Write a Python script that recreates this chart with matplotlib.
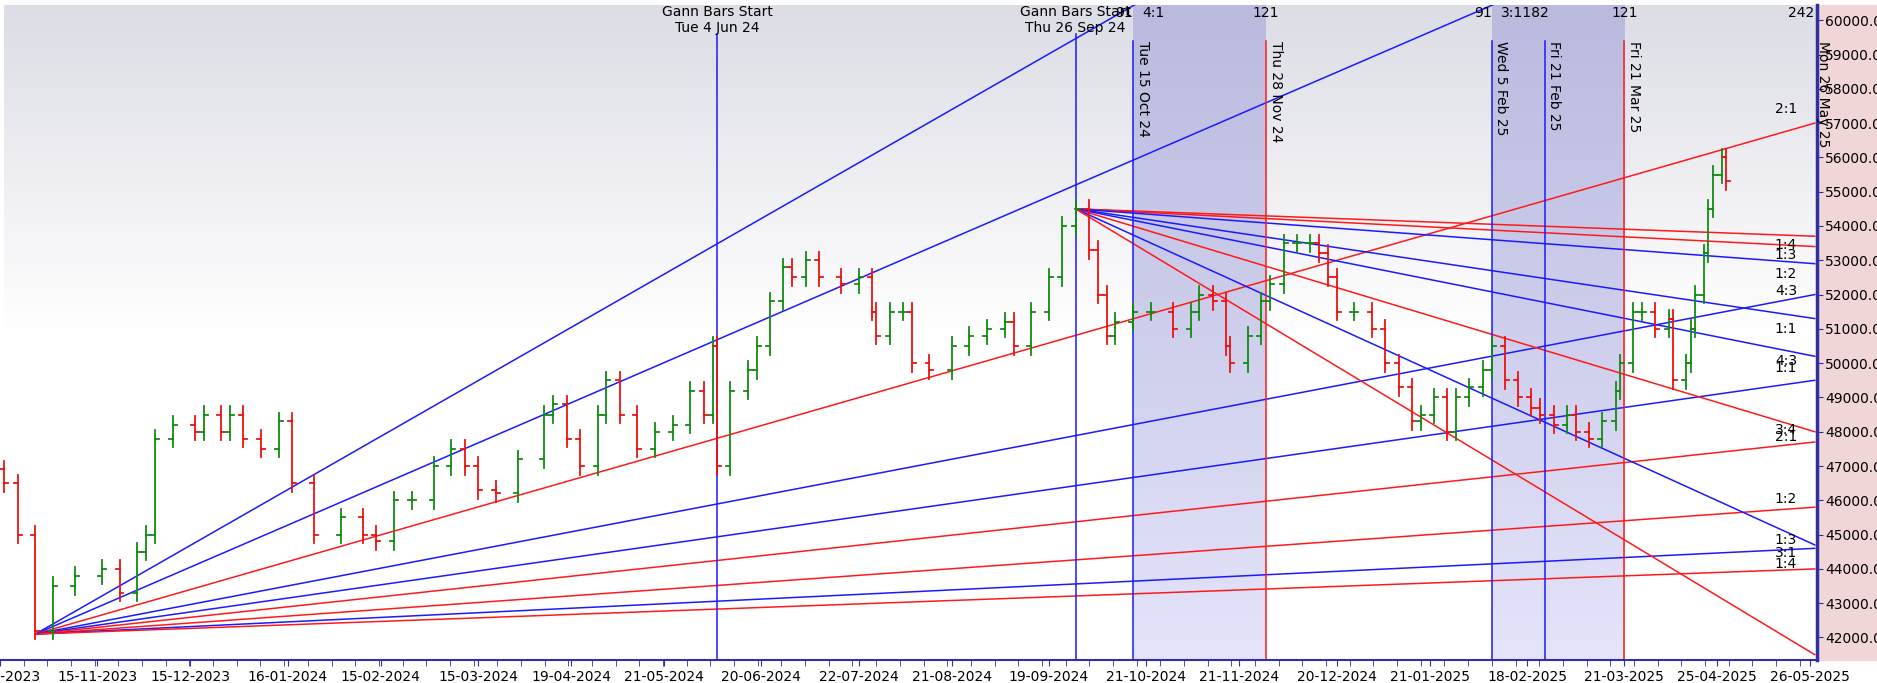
import matplotlib

matplotlib.use("Agg")

import matplotlib.pyplot as plt
import numpy as np

# bar index (trading bars from chart start) and closing prices
bars = [0, 3, 7, 11, 16, 22, 26, 30, 32, 34, 38, 43, 45, 49, 51, 54, 58, 62, 65, 70,
        76, 81, 84, 88, 92, 97, 101, 104, 107, 111, 116, 122, 124, 127, 130, 134, 136, 139, 143, 147,
        151, 155, 158, 160, 161, 164, 168, 170, 173, 176, 178, 181, 184, 189, 193, 196, 197, 200, 203, 205,
        209, 214, 218, 222, 226, 228, 232, 236, 239, 242, 245, 247, 249, 251, 255, 259, 264, 268, 270, 273,
        276, 277, 281, 284, 286, 289, 292, 295, 297, 299, 301, 305, 309, 312, 315, 318, 320, 323, 326, 328,
        331, 334, 336, 339, 342, 345, 347, 350, 353, 355, 358, 361, 364, 365, 368, 370, 373, 376, 377, 380,
        381, 382, 384, 385, 386, 388, 389]
closes = [46500, 45000, 42200, 43500, 43800, 44000, 43300, 44500, 45000, 47800, 48200, 48000, 48500, 48000, 48500, 47800, 47500, 48300, 46500, 45000,
          45500, 45000, 44800, 46000, 46000, 47000, 47500, 47000, 46300, 46200, 47200, 48500, 48800, 47800, 47000, 48500, 49500, 48500, 47500, 48000,
          48200, 49200, 48500, 50500, 47000, 49200, 49800, 50500, 51800, 52800, 52500, 53000, 52500, 52300, 52500, 51500, 50800, 51500, 51500, 50000,
          49800, 50500, 50800, 51000, 51200, 50500, 51500, 52500, 54000, 54500, 53300, 52000, 50800, 51200, 51500, 51500, 51000, 51500, 52000, 51800,
          50500, 50000, 50800, 51800, 52300, 53500, 53500, 53500, 53200, 52500, 51500, 51500, 51000, 50000, 49300, 48300, 48500, 49000, 48000, 49000,
          49300, 49800, 50500, 49500, 49000, 48700, 48500, 48200, 48500, 48000, 47800, 48300, 49200, 50000, 51500, 51500, 51000, 51300, 49500, 50000,
          51000, 52000, 53200, 54500, 55500, 56000, 55300]

# gann fan from the low, prices where each ray meets the right edge
low_bar, low_price = 7, 42100
low_fan_end = [71800, 64500, 57000, 52000, 49500, 47700, 45800, 44600, 44000]
low_fan_col = ["b", "b", "r", "b", "b", "r", "r", "b", "r"]
# gann fan from the top
top_bar, top_price = 242, 54500
top_fan_end = [53700, 53400, 52900, 51300, 50200, 48000, 44700, 41500]
top_fan_col = ["r", "r", "b", "b", "b", "r", "b", "r"]
end_bar = 409

tick_bars = [-1, 21, 42, 64, 85, 107, 128, 149, 171, 193, 214, 236, 258, 279, 301, 322, 344, 366, 387, 408]
tick_labels = ["16-10-2023", "15-11-2023", "15-12-2023", "16-01-2024", "15-02-2024", "15-03-2024",
               "19-04-2024", "21-05-2024", "20-06-2024", "22-07-2024", "21-08-2024", "19-09-2024",
               "21-10-2024", "21-11-2024", "20-12-2024", "21-01-2025", "18-02-2025", "21-03-2025",
               "25-04-2025", "26-05-2025"]

vline_bars = [255, 285, 336, 348, 366]
vline_labels = ["Tue 15 Oct 24", "Thu 28 Nov 24", "Wed 5 Feb 25", "Fri 21 Feb 25", "Fri 21 Mar 25"]
vline_cols = ["b", "r", "b", "b", "r"]
spans = [(255, 285, "4:1"), (336, 366, "3:1182")]
right_labels = [(57400, "2:1"), (53450, "1:4"), (53150, "1:3"), (52600, "1:2"), (52100, "4:3"),
                (51000, "1:1"), (50050, "4:3"), (49850, "1:1"), (48050, "3:4"), (47850, "2:1"),
                (46050, "1:2"), (44850, "1:3"), (44450, "3:1"), (44150, "1:4")]

RED = "#ff1a1a"
BLUE = "#1a1aff"
C = {"r": RED, "b": BLUE}

fig = plt.figure(figsize=(18.77, 6.83), dpi=100)
fig.patches.append(plt.Rectangle((0.968, 0.034), 0.032, 0.959, transform=fig.transFigure,
                                 color="#f0d6d6", zorder=-5))
ax = fig.add_axes([0, 0.034, 0.968, 0.959])
ymin, ymax = 41350, 60450
x0, x1 = 0, end_bar + 0.5
ax.set_xlim(x0, x1)
ax.set_ylim(ymin, ymax)

# background gradient
grad = np.linspace(0, 1, 256).reshape(-1, 1)
ax.imshow(grad, extent=[x0, x1, ymin, ymax], origin="lower", aspect="auto",
          cmap=matplotlib.colors.LinearSegmentedColormap.from_list("bg", ["#ffffff", "#ffffff", "#dcdde5"]),
          zorder=0)
for a, b, txt in spans:
    ax.imshow(grad, extent=[a, b, ymin, ymax], origin="lower", aspect="auto",
              cmap=matplotlib.colors.LinearSegmentedColormap.from_list("sp", ["#e4e4fb", "#b9bade"]),
              zorder=0.5)
    ax.text(a, 60200, "91", ha="right", va="center", fontsize=10)
    ax.text(a + 2, 60200, txt, ha="left", va="center", fontsize=10)
    ax.text(b, 60200, "121", ha="center", va="center", fontsize=10)
ax.text(end_bar, 60200, "242", ha="right", va="center", fontsize=10)

# fans
for e, c in zip(low_fan_end, low_fan_col):
    ax.plot([low_bar, end_bar], [low_price, e], color=C[c], lw=1.1, zorder=2)
for e, c in zip(top_fan_end, top_fan_col):
    ax.plot([top_bar, end_bar], [top_price, e], color=C[c], lw=1.1, zorder=2)
for y, t in right_labels:
    ax.text(end_bar - 4, y, t, ha="right", va="center", fontsize=10, zorder=5)

# vertical lines
for xb, t in [(161, "Tue 4 Jun 24"), (242, "Thu 26 Sep 24")]:
    ax.plot([xb, xb], [ymin, 59600], color=BLUE, lw=1.1, zorder=2)
    ax.text(xb, 60000, "Gann Bars Start\n" + t, ha="center", va="center", fontsize=10, linespacing=1.2)
for xb, t, c in zip(vline_bars, vline_labels, vline_cols):
    ax.plot([xb, xb], [ymin, 59400], color=C[c], lw=1.1, zorder=2)
    ax.text(xb + 0.6, 59400, t, rotation=270, ha="left", va="top", fontsize=10)
ax.text(end_bar + 0.3, 59400, "Mon 26 May 25", rotation=270, ha="left", va="top", fontsize=10)

# price bars
for i, (xb, c) in enumerate(zip(bars, closes)):
    o = closes[i - 1] if i > 0 else c + 400
    col = "#138a13" if c >= o else "#ee1111"
    hi = max(o, c) + 250
    lo = min(o, c) - 250
    ax.plot([xb, xb], [lo, hi], color=col, lw=1.3, zorder=3)
    ax.plot([xb - 0.9, xb], [o, o], color=col, lw=1.3, zorder=3)
    ax.plot([xb, xb + 0.9], [c, c], color=col, lw=1.3, zorder=3)

# axes styling
for s in ["left", "top"]:
    ax.spines[s].set_visible(False)
ax.spines["bottom"].set_color("#3030a0")
ax.spines["bottom"].set_linewidth(1.5)
ax.spines["right"].set_color("#3030a0")
ax.spines["right"].set_linewidth(2.5)
ax.yaxis.tick_right()
yt = np.arange(42000, 60001, 1000)
ax.set_yticks(yt)
ax.set_yticklabels([f"{v:.2f}" for v in yt], fontsize=10)
ax.tick_params(axis="y", length=4, color="#3030a0", pad=2)
ax.set_xticks(tick_bars)
ax.set_xticklabels(tick_labels, fontsize=10)
ax.set_xticks(np.arange(-1, end_bar, 5.35), minor=True)
ax.tick_params(axis="x", which="both", length=4, color="#3030a0", pad=3)

fig.savefig("out.png", dpi=100)
